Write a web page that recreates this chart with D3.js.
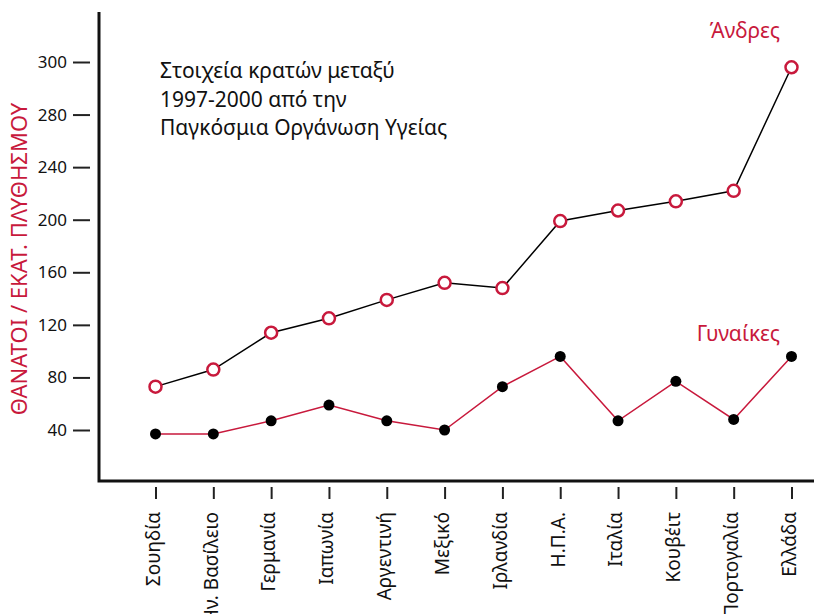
<!DOCTYPE html>
<html>
<head>
<meta charset="utf-8">
<script src="https://cdn.jsdelivr.net/npm/d3@7"></script>
<style>
  body { margin: 0; background: #fff; }
  text { font-family: "Noto Sans", "Open Sans", sans-serif; }
</style>
</head>
<body>
<div id="chart"></div>
<script>
// countries along the x axis
var countries = ["Σουηδία", "Ην. Βασίλειο", "Γερμανία", "Ιαπωνία", "Αργεντινή", "Μεξικό",
                 "Ιρλανδία", "Η.Π.Α.", "Ιταλία", "Κουβέιτ", "Πορτογαλία", "Ελλάδα"];
// deaths per 100k population
var men   = [73, 86, 114, 125, 139, 152, 148, 199, 207, 214, 222, 316];
var women = [37, 37, 47, 59, 47, 40, 73, 96, 47, 77, 48, 96];
// y ticks as printed (last one reads 300)
var yTickValues = [40, 80, 120, 160, 200, 240, 280, 320];
var yTickLabels = ["40", "80", "120", "160", "200", "240", "280", "300"];
var noteLines = ["Στοιχεία κρατών μεταξύ", "1997-2000 από την", "Παγκόσμια Οργάνωση Υγείας"];

var w = 814, h = 614;
var red = "#c8193c";

var svg = d3.select("#chart").append("svg")
    .attr("width", w)
    .attr("height", h);

var x = d3.scalePoint()
    .domain(countries)
    .range([155.5, 791.5]);

var y = d3.scaleLinear()
    .domain([40, 320])
    .range([430, 62]);

// y ticks (detached from the axis line)
var yAxis = d3.axisLeft(y)
    .tickValues(yTickValues)
    .tickSize(17)
    .tickPadding(6)
    .tickFormat(function(d, i) { return yTickLabels[i]; });

var gy = svg.append("g")
    .attr("transform", "translate(90,0)")
    .call(yAxis);
gy.select(".domain").remove();
gy.selectAll(".tick line").attr("stroke", "#222").attr("stroke-width", 2);
gy.selectAll(".tick text")
    .attr("fill", "#111")
    .style("font-size", "17px");

// x ticks and rotated labels
var xAxis = d3.axisBottom(x).tickSize(12).tickPadding(0);
var gx = svg.append("g")
    .attr("transform", "translate(0,487)")
    .call(xAxis);
gx.select(".domain").remove();
gx.selectAll(".tick line").attr("stroke", "#222").attr("stroke-width", 2);
gx.selectAll(".tick text")
    .attr("fill", "#111")
    .style("font-size", "19px")
    .attr("text-anchor", "end")
    .attr("transform", "translate(0,25) rotate(-90)")
    .attr("x", 0)
    .attr("y", 0)
    .attr("dy", "0.2em");

// axis lines
svg.append("path")
    .attr("d", "M99,12V481H814")
    .attr("fill", "none")
    .attr("stroke", "#111")
    .attr("stroke-width", 3);

// y title
svg.append("text")
    .attr("transform", "translate(27,259) rotate(-90)")
    .attr("text-anchor", "middle")
    .attr("fill", red)
    .style("font-size", "22px")
    .text("ΘΑΝΑΤΟΙ / ΕΚΑΤ. ΠΛΥΘΗΣΜΟΥ");

// note
svg.append("g").selectAll("text")
    .data(noteLines)
    .enter()
    .append("text")
    .attr("x", 160)
    .attr("y", function(d, i) { return 78 + i * 28.5; })
    .attr("fill", "#111")
    .style("font-size", "21px")
    .text(function(d) { return d; });

var line = d3.line()
    .x(function(d, i) { return x(countries[i]); })
    .y(function(d) { return y(d); });

// women
svg.append("path")
    .datum(women)
    .attr("d", line)
    .attr("fill", "none")
    .attr("stroke", red)
    .attr("stroke-width", 1.5);
svg.append("g").selectAll("circle")
    .data(women)
    .enter()
    .append("circle")
    .attr("cx", function(d, i) { return x(countries[i]); })
    .attr("cy", function(d) { return y(d); })
    .attr("r", 5.5)
    .attr("fill", "#000");

// men
svg.append("path")
    .datum(men)
    .attr("d", line)
    .attr("fill", "none")
    .attr("stroke", "#000")
    .attr("stroke-width", 1.5);
svg.append("g").selectAll("circle")
    .data(men)
    .enter()
    .append("circle")
    .attr("cx", function(d, i) { return x(countries[i]); })
    .attr("cy", function(d) { return y(d); })
    .attr("r", 6)
    .attr("fill", "#fff")
    .attr("stroke", red)
    .attr("stroke-width", 2.5);

// series labels
svg.append("text")
    .attr("x", 780).attr("y", 38)
    .attr("text-anchor", "end")
    .attr("fill", red)
    .style("font-size", "21px")
    .text("Άνδρες");
svg.append("text")
    .attr("x", 780).attr("y", 341)
    .attr("text-anchor", "end")
    .attr("fill", red)
    .style("font-size", "21px")
    .text("Γυναίκες");
</script>
</body>
</html>
